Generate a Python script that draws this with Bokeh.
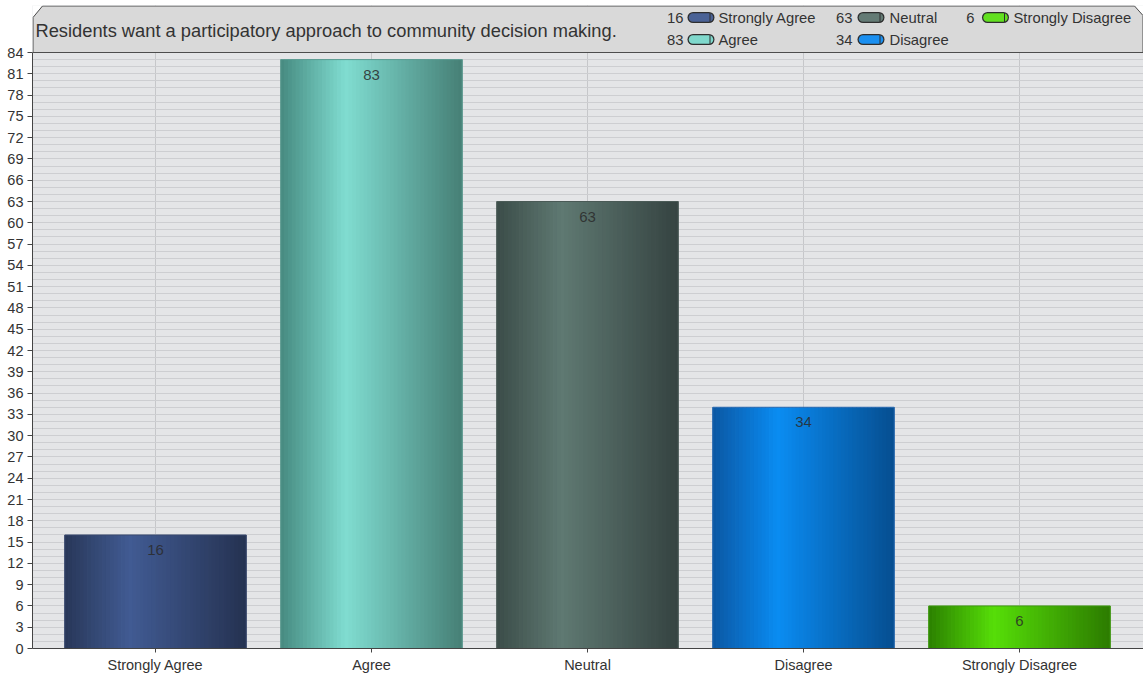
import numpy as np
from bokeh.plotting import figure
from bokeh.models import Range1d, FixedTicker, ColumnDataSource
from bokeh.core.properties import value
from bokeh.embed import file_html
from bokeh.resources import INLINE

# ---------------- data ----------------
categories = ["Strongly Agree", "Agree", "Neutral", "Disagree", "Strongly Disagree"]
counts = [16, 83, 63, 34, 6]
title_text = "Residents want a participatory approach to community decision making."
y_ticks = list(range(0, 85, 3))

# ---------------- styles ----------------
edge_left = ["#283758", "#468a80", "#3b4c48", "#0b57a3", "#2b8000"]
peak_col = ["#415b93", "#80ddd1", "#5f7972", "#0a8cf2", "#56de08"]
edge_right = ["#253251", "#467f76", "#354341", "#064e90", "#2c7b00"]
outline_col = ["#3a4a70", "#5a9a90", "#4a5a56", "#2a6ab0", "#3f9a10"]
legend_col = ["#4a6296", "#7fd8cc", "#647b75", "#1a8ff0", "#62e020"]
FONT = value("Liberation Sans")

# layout geometry (pixels in figure) -> data coordinates
FRAME_L, FRAME_R, FRAME_T, FRAME_B = 32, 1143, 5, 648
SPACING = 216.0
X0 = -123 / SPACING
X1 = X0 + (FRAME_R - FRAME_L) / SPACING
PX_PER_Y = (648 - 52) / 84.0
YTOP = (FRAME_B - FRAME_T) / PX_PER_Y


def X(px):
    return X0 + (px - FRAME_L) / SPACING


def Y(py):
    return (FRAME_B - py) / PX_PER_Y


def hx(c):
    c = c.lstrip("#")
    return np.array([int(c[i:i + 2], 16) for i in (0, 2, 4)], dtype=float)


def mix(a, b, t):
    v = hx(a) * (1 - t) + hx(b) * t
    return "#%02x%02x%02x" % tuple(int(round(x)) for x in v)


p = figure(width=1143, height=677, output_backend="svg", toolbar_location=None,
           x_range=Range1d(X0, X1), y_range=Range1d(0, YTOP),
           min_border_left=FRAME_L, min_border_right=0, min_border_top=FRAME_T,
           min_border_bottom=677 - FRAME_B,
           background_fill_color="#e4e5e7", border_fill_color="white",
           outline_line_color=None)
p.title.visible = False

# axes
idx = list(range(len(categories)))
p.xaxis.ticker = FixedTicker(ticks=idx)
p.xaxis.major_label_overrides = {i: c for i, c in enumerate(categories)}
p.xaxis.major_tick_out = 4
p.xaxis.major_tick_in = 0
p.xaxis.minor_tick_line_color = None
p.xaxis.major_label_standoff = 4
p.xaxis.axis_line_color = "#444444"
p.xaxis.major_tick_line_color = "#444444"

p.yaxis.ticker = FixedTicker(ticks=y_ticks, minor_ticks=list(range(0, 85)))
p.yaxis.bounds = (0, 84)
p.yaxis.major_tick_out = 5
p.yaxis.major_tick_in = 0
p.yaxis.minor_tick_line_color = None
p.yaxis.major_label_standoff = 4
p.yaxis.axis_line_color = "#444444"
p.yaxis.major_tick_line_color = "#444444"

for ax in (p.xaxis, p.yaxis):
    ax.major_label_text_font = "Liberation Sans"
    ax.major_label_text_font_size = "14.5px"
    ax.major_label_text_color = "#333333"

p.ygrid.grid_line_color = "#cdced1"
p.ygrid.minor_grid_line_color = "#cdced1"
p.xgrid.ticker = FixedTicker(ticks=idx)
p.xgrid.grid_line_color = "#c6c7ca"

# bars with horizontal gradient
W = 0.84
N = 48
PEAK = 0.36
xs, tops, cols = [], [], []
for i, v in enumerate(counts):
    for k in range(N):
        t = (k + 0.5) / N
        if t < PEAK:
            c = mix(edge_left[i], peak_col[i], t / PEAK)
        else:
            c = mix(peak_col[i], edge_right[i], (t - PEAK) / (1 - PEAK))
        xs.append(i - W / 2 + t * W)
        tops.append(v)
        cols.append(c)
src = ColumnDataSource(dict(x=xs, top=tops, color=cols))
p.vbar(x="x", top="top", bottom=0, width=W / N * 1.2, fill_color="color",
       line_color=None, source=src)
p.vbar(x=idx, top=counts, bottom=0, width=W, fill_color=None,
       line_color=outline_col, line_width=1)

# value labels
p.text(x=idx, y=counts, text=[str(c) for c in counts], y_offset=15,
       text_align="center", text_baseline="middle", text_font=FONT,
       text_font_size="15px", text_color="#2a2a2a", text_alpha=0.85)

# header box
p.patch([X(32), X(32), X(43), X(32)], [Y(17), Y(4), Y(4), Y(17)],
        fill_color="white", line_color=None)
p.patch([X(1133), X(1144), X(1144), X(1133)], [Y(4), Y(4), Y(16), Y(4)],
        fill_color="white", line_color=None)
p.patch([X(32.5), X(32.5), X(42), X(1134), X(1142.5), X(1142.5)],
        [Y(52), Y(17), Y(5.5), Y(5.5), Y(15), Y(52)],
        fill_color="#d9d9d9", line_color="#4d4d4d", line_width=1)

p.text(x=[X(35)], y=[Y(30)], text=[title_text], text_align="left",
       text_baseline="middle", text_font=FONT, text_font_size="18.3px",
       text_color="#333333")

# legend
num_right = [683, 852, 974]
pill_c = [700.5, 870.5, 995]
lab_left = [718, 889, 1013]
row_y = [17, 39]
lx_num, ly, lx0, lx1, lcap, llab, lcols, lnums, llabs = [], [], [], [], [], [], [], [], []
for i, (cat, v) in enumerate(zip(categories, counts)):
    col, row = i // 2, i % 2
    lx_num.append(X(num_right[col]))
    ly.append(Y(row_y[row]))
    lx0.append(X(pill_c[col] - 8))
    lx1.append(X(pill_c[col] + 8))
    lcap.append(X(pill_c[col] + 9))
    llab.append(X(lab_left[col]))
    lcols.append(legend_col[i])
    lnums.append(str(v))
    llabs.append(cat)

p.text(x=lx_num, y=ly, text=lnums, text_align="right", text_baseline="middle",
       text_font=FONT, text_font_size="14.8px", text_color="#333333")
p.segment(x0=lx0, y0=ly, x1=lx1, y1=ly, line_width=11, line_cap="round",
          line_color="#2e2e2e")
p.segment(x0=lx0, y0=ly, x1=lx1, y1=ly, line_width=8.5, line_cap="round",
          line_color=lcols)
p.segment(x0=lcap, y0=[y - 4.5 / PX_PER_Y for y in ly], x1=lcap,
          y1=[y + 4.5 / PX_PER_Y for y in ly], line_width=1, line_color="#2e2e2e")
p.text(x=llab, y=ly, text=llabs, text_align="left", text_baseline="middle",
       text_font=FONT, text_font_size="14.8px", text_color="#333333")

open("out.html", "w").write(file_html(p, INLINE))
